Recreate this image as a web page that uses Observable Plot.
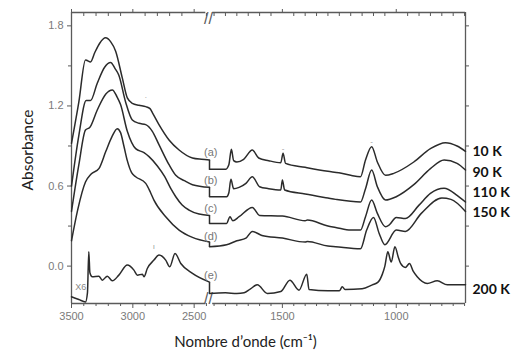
<!DOCTYPE html>
<html><head><meta charset="utf-8">
<script src="https://cdn.jsdelivr.net/npm/d3@7"></script>
<script src="https://cdn.jsdelivr.net/npm/@observablehq/plot@0.6"></script>
<style>body{margin:0;background:#fff}svg{display:block}</style>
</head><body><div id="chart"></div>
<script>
// wavenumber (cm-1), absorbance
const specA = [[3500,0.92],[3440,1.23],[3386,1.545],[3372,1.54],[3345,1.53],[3310,1.6],[3270,1.67],[3222,1.71],[3180,1.68],[3140,1.61],[3086,1.41],[3045,1.26],[3004,1.22],[2950,1.205],[2895,1.195],[2860,1.18],[2841,1.15],[2787,1.06],[2705,0.945],[2623,0.87],[2514,0.81],[2440,0.80],[2375,0.795],
 [1820,0.725],[1750,0.725],[1735,0.76],[1724,0.875],[1714,0.79],[1700,0.78],[1670,0.80],[1632,0.87],[1604,0.81],[1560,0.79],[1507,0.775],[1497,0.845],[1486,0.77],[1400,0.74],[1300,0.71],[1252,0.70],[1200,0.68],[1157,0.67],[1135,0.795],[1108,0.895],[1083,0.78],[1047,0.68],[1011,0.695],[923,0.78],[850,0.88],[784,0.925],[733,0.90],[696,0.86]];
const specB = [[3500,0.6],[3440,0.98],[3380,1.24],[3345,1.24],[3290,1.37],[3230,1.49],[3181,1.525],[3145,1.48],[3114,1.43],[3059,1.23],[3004,1.095],[2950,1.07],[2895,1.06],[2841,1.01],[2787,0.91],[2705,0.76],[2650,0.68],[2580,0.64],[2514,0.61],[2375,0.59],
 [1820,0.52],[1745,0.52],[1735,0.55],[1726,0.65],[1714,0.58],[1690,0.59],[1660,0.62],[1632,0.67],[1600,0.595],[1560,0.58],[1507,0.57],[1500,0.645],[1490,0.57],[1400,0.54],[1300,0.51],[1266,0.50],[1157,0.48],[1135,0.58],[1108,0.72],[1083,0.595],[1047,0.495],[1000,0.52],[923,0.61],[850,0.73],[790,0.795],[733,0.77],[696,0.72]];
const specC = [[3500,0.41],[3440,0.76],[3386,1.02],[3350,1.04],[3290,1.17],[3220,1.29],[3167,1.32],[3130,1.27],[3100,1.21],[3045,1.01],[2977,0.88],[2909,0.85],[2868,0.82],[2800,0.75],[2740,0.67],[2690,0.58],[2650,0.52],[2600,0.46],[2542,0.42],[2460,0.39],[2375,0.38],
 [1820,0.32],[1745,0.32],[1730,0.37],[1718,0.34],[1690,0.37],[1632,0.44],[1600,0.38],[1500,0.375],[1400,0.34],[1390,0.345],[1300,0.30],[1266,0.29],[1200,0.27],[1157,0.27],[1135,0.37],[1108,0.495],[1083,0.395],[1047,0.295],[1030,0.31],[1000,0.365],[960,0.357],[900,0.457],[850,0.545],[790,0.583],[733,0.53],[696,0.48]];
const specD = [[3500,0.19],[3450,0.42],[3386,0.63],[3340,0.69],[3277,0.73],[3220,0.86],[3170,0.97],[3127,1.03],[3100,1.0],[3073,0.9],[3045,0.79],[3010,0.7],[2977,0.67],[2895,0.62],[2855,0.55],[2828,0.495],[2732,0.37],[2623,0.27],[2514,0.215],[2375,0.18],
 [1820,0.145],[1745,0.16],[1700,0.19],[1660,0.21],[1632,0.26],[1590,0.23],[1500,0.21],[1400,0.18],[1390,0.185],[1300,0.15],[1266,0.145],[1157,0.13],[1130,0.27],[1100,0.365],[1075,0.245],[1050,0.16],[1000,0.27],[960,0.26],[890,0.395],[800,0.51],[760,0.50],[696,0.41]];
const specE = [[3500,-0.23],[3440,-0.25],[3386,-0.268],[3370,-0.2],[3359,0.107],[3350,-0.05],[3331,-0.08],[3277,-0.075],[3249,-0.105],[3208,-0.075],[3167,-0.11],[3114,-0.0675],[3045,0.0075],[2991,-0.03],[2963,-0.0675],[2922,-0.06],[2909,-0.08],[2882,-0.0175],[2828,0.045],[2787,0.0825],[2732,0.045],[2699,-0.005],[2656,0.095],[2609,0.02],[2514,-0.055],[2375,-0.12],
 [1820,-0.205],[1750,-0.2],[1700,-0.205],[1668,-0.2],[1640,-0.17],[1610,-0.14],[1566,-0.205],[1507,-0.19],[1467,-0.105],[1427,-0.18],[1393,-0.06],[1383,-0.175],[1300,-0.185],[1250,-0.185],[1237,-0.155],[1225,-0.175],[1150,-0.17],[1105,-0.14],[1080,-0.12],[1061,-0.06],[1050,0.0],[1037,0.107],[1022,0.03],[1006,0.145],[990,0.06],[981,0.02],[960,-0.01],[942,0.02],[925,-0.04],[908,-0.08],[864,-0.13],[820,-0.11],[776,-0.14],[696,-0.14]];

const curveIds = ["a","b","c","d","e"];
const curveLabels = ["(a)","(b)","(c)","(d)","(e)"];
const curveLabelY = [0.85,0.645,0.435,0.225,-0.0675];
const tempLabels = ["10 K","90 K","110 K","150 K","200 K"];
const tempLabelY = [0.855,0.705,0.555,0.405,-0.1725];
// small peak markers in the original figure: wavenumber, absorbance, glyph
const markerWn = [1497, 1108, 2828, 2895];
const markerA = [0.88, 0.935, 0.145, 1.265];
const markerGlyph = ["-", "-", "ı", "·"];

const xDomain = [3500, 2375, 1820, 696];   // broken axis: left and right segments
const gapWn = [2405, 1806];
const yDomain = [-0.28, 1.9];
const xMajor = [3500, 3000, 2500, 1500, 1000];
const xMinor = [3400,3300,3200,3100,2900,2800,2700,2600,2400,1800,1750,1700,1650,1600,1550,1450,1400,1350,1300,1250,1200,1150,1100,1050,950,900,850,800,750,700];
const yMajor = [0, 0.6, 1.2, 1.8];
const yMinor = [0.3, 0.9, 1.5];

const W = 522, H = 355, mL = 71, mR = 57, mT = 12, mB = 52, breakPx = 209;
const specs = [specA, specB, specC, specD, specE];
const rows = specs.flatMap((s, i) => s.map(([wn, a]) => ({id: curveIds[i], seg: curveIds[i] + (wn >= xDomain[1] ? "L" : "R"), wn, a})));
const jumps = specs.map(s => {
  const l = s.filter(([wn]) => wn >= xDomain[1]).at(-1), r = s.find(([wn]) => wn <= xDomain[2]);
  return {x1: l[0], y1: l[1], x2: r[0], y2: r[1]};
});
const lab = curveLabels.map((t, i) => ({t, y: curveLabelY[i]}));
const temps = tempLabels.map((t, i) => ({t, y: tempLabelY[i]}));
const markers = markerWn.map((wn, i) => ({wn, a: markerA[i], g: markerGlyph[i]}));
const axisCol = "#5a5a5a", tickTextCol = "#7a7a7a", lineCol = "#2b2b2b";
const sans = "Lato, 'Open Sans', sans-serif";

const chart = Plot.plot({
  width: W, height: H, marginLeft: mL, marginRight: mR, marginTop: mT, marginBottom: mB,
  style: {fontFamily: "'Liberation Sans', Arial, sans-serif", background: "#fff", overflow: "visible"},
  x: {type: "linear", domain: xDomain, range: [mL, breakPx, breakPx, W - mR]},
  y: {domain: yDomain},
  marks: [
    Plot.ruleX([xDomain[0], xDomain[3]], {stroke: axisCol, strokeWidth: 1.3}),
    Plot.ruleY(yDomain, {x1: () => xDomain[0], x2: () => gapWn[0], stroke: axisCol, strokeWidth: 1.3}),
    Plot.ruleY(yDomain, {x1: () => gapWn[1], x2: () => xDomain[3], stroke: axisCol, strokeWidth: 1.3}),
    Plot.text(["//"], {x: () => xDomain[1], frameAnchor: "top", fontSize: 16, fill: axisCol, dx: -1}),
    Plot.text(["//"], {x: () => xDomain[1], frameAnchor: "bottom", fontSize: 16, fill: axisCol, dx: -1}),
    Plot.axisX({ticks: xMajor, tickSize: 5, tickFormat: d => String(d), label: null, fontSize: 11, fill: tickTextCol, stroke: axisCol, tickPadding: 4}),
    Plot.axisX({ticks: xMinor, tickSize: 3, tickFormat: () => "", label: null, stroke: axisCol}),
    Plot.axisX({anchor: "top", ticks: xMajor, tickSize: 4, tickFormat: () => "", label: null, stroke: axisCol}),
    Plot.axisX({anchor: "top", ticks: xMinor, tickSize: -3, tickFormat: () => "", label: null, stroke: axisCol}),
    Plot.axisY({ticks: yMajor, tickSize: 4, tickFormat: d3.format(".1f"), label: null, fontSize: 11, fill: tickTextCol, stroke: axisCol, tickPadding: 4}),
    Plot.axisY({ticks: yMinor, tickSize: 3, tickFormat: () => "", label: null, stroke: axisCol}),
    Plot.axisY({anchor: "right", ticks: yMajor.concat(yMinor), tickSize: 3, tickFormat: () => "", label: null, stroke: axisCol}),
    Plot.line(rows, {x: "wn", y: "a", z: "seg", stroke: lineCol, strokeWidth: 1.5, curve: "monotone-x"}),
    Plot.link(jumps, {x1: "x1", y1: "y1", x2: "x2", y2: "y2", stroke: lineCol, strokeWidth: 1.5}),
    Plot.text(markers, {x: "wn", y: "a", text: "g", fill: "#999", fontSize: 8}),
    Plot.text(lab, {x: () => gapWn[1], y: "y", text: "t", fill: "#777", fontSize: 11, dx: -2}),
    Plot.text(["X6"], {x: () => 3425, y: () => -0.16, fill: "#888", fontSize: 9}),
    Plot.text(temps, {x: () => xDomain[3], y: "y", text: "t", textAnchor: "start", dx: 7, fontSize: 14, fontWeight: "bold", fill: "#111", fontFamily: sans}),
    Plot.text(["Nombre d’onde (cm⁻¹)"], {frameAnchor: "bottom", dx: -23, dy: 43, fontSize: 15, fill: "#222", fontFamily: sans}),
    Plot.text(["Absorbance"], {frameAnchor: "left", textAnchor: "middle", rotate: -90, dx: -43, dy: -8, fontSize: 15.5, fill: "#222", fontFamily: sans})
  ]
});
document.getElementById("chart").appendChild(chart);
</script>
</body></html>
